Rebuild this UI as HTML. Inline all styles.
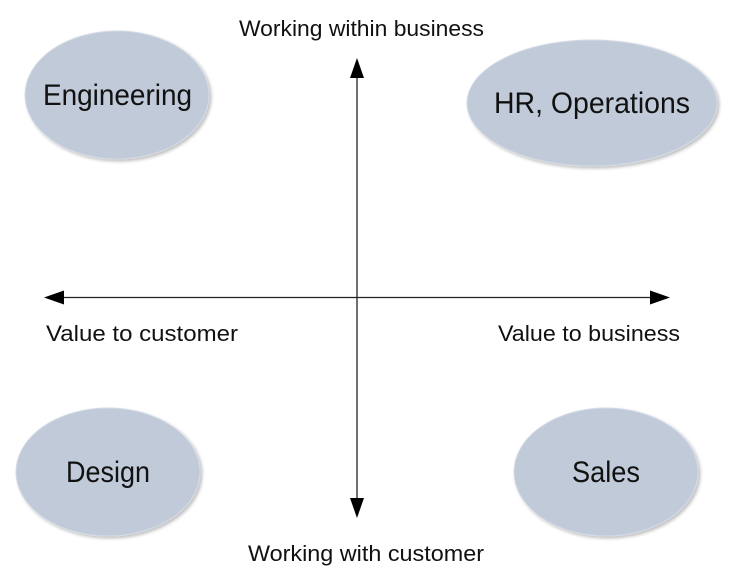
<!DOCTYPE html>
<html><head><meta charset="utf-8"><style>
html,body{margin:0;padding:0;background:#fff;width:735px;height:579px;overflow:hidden}
svg{display:block}
text{font-family:"Liberation Sans",sans-serif;fill:#111}
</style></head><body>
<svg width="735" height="579" viewBox="0 0 735 579">
<defs>
<filter id="sh" x="-10%" y="-10%" width="130%" height="130%"><feGaussianBlur in="SourceAlpha" stdDeviation="1.5"/><feOffset dx="2" dy="2"/><feComponentTransfer><feFuncA type="linear" slope="0.25"/></feComponentTransfer><feMerge><feMergeNode/><feMergeNode in="SourceGraphic"/></feMerge></filter>
</defs>
<g fill="#c1cad9" stroke="#d4dbe6" stroke-width="1" filter="url(#sh)">
<ellipse cx="117" cy="95" rx="92" ry="64"/>
<ellipse cx="592" cy="103" rx="125" ry="63"/>
<ellipse cx="108" cy="472" rx="92" ry="64"/>
<ellipse cx="606" cy="472" rx="92" ry="64"/>
</g>
<g font-size="30">
<text x="43" y="105" textLength="149" lengthAdjust="spacingAndGlyphs">Engineering</text>
<text x="494" y="113" textLength="196" lengthAdjust="spacingAndGlyphs">HR, Operations</text>
<text x="66" y="482" textLength="84" lengthAdjust="spacingAndGlyphs">Design</text>
<text x="572" y="482" textLength="68" lengthAdjust="spacingAndGlyphs">Sales</text>
</g>
<g font-size="22">
<text x="239" y="36" textLength="245" lengthAdjust="spacingAndGlyphs">Working within business</text>
<text x="46" y="341" textLength="192" lengthAdjust="spacingAndGlyphs">Value to customer</text>
<text x="498" y="341" textLength="182" lengthAdjust="spacingAndGlyphs">Value to business</text>
<text x="248" y="561" textLength="236" lengthAdjust="spacingAndGlyphs">Working with customer</text>
</g>
<g stroke="#222" stroke-width="1.3">
<line x1="357" y1="75" x2="357" y2="500"/>
<line x1="62" y1="297.5" x2="652" y2="297.5"/>
</g>
<g fill="#000">
<polygon points="357,58 350,78 364,78"/>
<polygon points="357,518 350,498 364,498"/>
<polygon points="44,297.5 64,290.5 64,304.5"/>
<polygon points="670,297.5 650,290.5 650,304.5"/>
</g>
</svg>
</body></html>
